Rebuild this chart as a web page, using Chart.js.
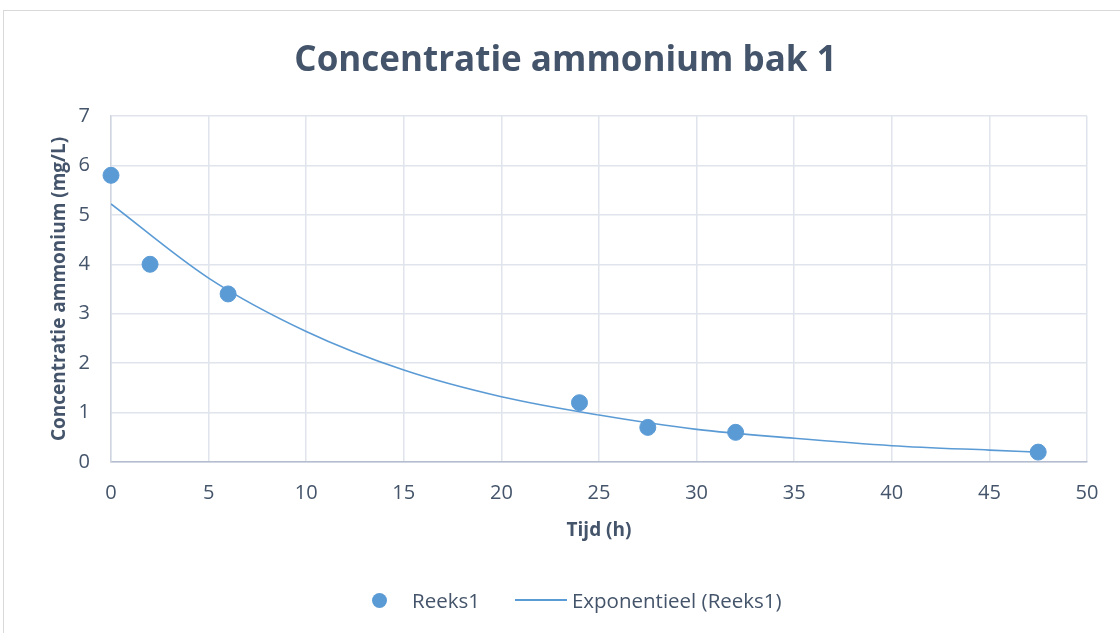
<!DOCTYPE html>
<html>
<head>
<meta charset="utf-8">
<script src="https://cdn.jsdelivr.net/npm/chart.js@4"></script>
<style>
  html, body { margin: 0; padding: 0; background: #fff; }
  #wrap { position: relative; width: 1120px; height: 633px; overflow: hidden; }
  #frame { position: absolute; left: 3px; top: 10px; width: 1130px; height: 640px;
           border: 1px solid #d9d9d9; box-sizing: border-box; }
  #chart { position: absolute; left: 0; top: 0; }
  #legend { position: absolute; top: 587px; left: 372px; height: 26px; display: flex;
            align-items: center; font-family: "Open Sans", sans-serif; font-size: 20.5px; color: #44546a; }
  #legend .dot { width: 15px; height: 15px; border-radius: 50%; display: inline-block; }
  #legend .ln { width: 52px; height: 0; display: inline-block; }
</style>
</head>
<body>
<div id="wrap">
  <div id="frame"></div>
  <canvas id="chart" width="1120" height="633"></canvas>
  <div id="legend"></div>
</div>
<script>
// Measured points (time in hours, ammonium in mg/L)
const tijd = [0, 2, 6, 24, 27.5, 32, 47.5];
const concentratie = [5.8, 4.0, 3.4, 1.2, 0.7, 0.6, 0.2];

// Exponential trendline at regular times
const trendTijd = [0, 5, 10, 15, 20, 25, 30, 35, 40, 45, 47.5];
const trendWaarde = [5.22, 3.72, 2.64, 1.86, 1.32, 0.95, 0.66, 0.48, 0.33, 0.24, 0.20];

const seriesLabels = ['Reeks1', 'Exponentieel (Reeks1)'];
const chartTitle = 'Concentratie ammonium bak 1';
const xTitle = 'Tijd (h)';
const yTitle = 'Concentratie ammonium (mg/L)';

const blue = '#5b9bd5';
const textColor = '#44546a';
const gridColor = '#e0e4ec';
const fontFamily = 'Open Sans';

const chart = new Chart(document.getElementById('chart'), {
    type: 'scatter',
    data: {
        datasets: [
            {
                label: seriesLabels[0],
                data: tijd.map((t, i) => ({ x: t, y: concentratie[i] })),
                backgroundColor: blue,
                borderColor: blue,
                pointRadius: 8,
                pointHoverRadius: 8,
                clip: false,
                order: 0
            },
            {
                label: seriesLabels[1],
                type: 'line',
                data: trendTijd.map((t, i) => ({ x: t, y: trendWaarde[i] })),
                borderColor: blue,
                borderWidth: 1.6,
                pointRadius: 0,
                fill: false,
                cubicInterpolationMode: 'monotone',
                order: 1
            }
        ]
    },
    options: {
        responsive: false,
        animation: false,
        layout: { padding: { left: 44, right: 33, top: 0, bottom: 87 } },
        plugins: {
            legend: { display: false },
            tooltip: { enabled: false },
            title: {
                display: true,
                text: chartTitle,
                color: textColor,
                font: { family: fontFamily, size: 35, weight: 'bold' },
                padding: { top: 40, bottom: 34 }
            }
        },
        scales: {
            x: {
                type: 'linear',
                min: 0,
                max: 50,
                ticks: {
                    stepSize: 5,
                    color: textColor,
                    padding: 19,
                    font: { family: fontFamily, size: 20 }
                },
                grid: { color: gridColor, lineWidth: 1.5, drawTicks: false },
                border: { color: '#b4bccf', width: 1.5 },
                title: {
                    display: true,
                    text: xTitle,
                    color: textColor,
                    font: { family: fontFamily, size: 19, weight: 'bold' }
                },
                afterFit: (scale) => { scale.height = 84; }
            },
            y: {
                min: 0,
                max: 7,
                ticks: {
                    stepSize: 1,
                    color: textColor,
                    padding: 21,
                    font: { family: fontFamily, size: 20 }
                },
                grid: { color: gridColor, lineWidth: 1.5, drawTicks: false },
                border: { color: '#cfd5e0', width: 1.5 },
                title: {
                    display: true,
                    text: yTitle,
                    color: textColor,
                    font: { family: fontFamily, size: 19, weight: 'bold' }
                },
                afterFit: (scale) => { scale.width = 67; }
            }
        }
    }
});

// Legend as HTML so the marker and the line can have their own widths
const legend = document.getElementById('legend');
legend.innerHTML =
    '<span class="dot" style="background:' + blue + '"></span>' +
    '<span style="margin-left:25px">' + seriesLabels[0] + '</span>' +
    '<span class="ln" style="margin-left:35px;border-top:2px solid ' + blue + '"></span>' +
    '<span style="margin-left:5px">' + seriesLabels[1] + '</span>';
</script>
</body>
</html>
